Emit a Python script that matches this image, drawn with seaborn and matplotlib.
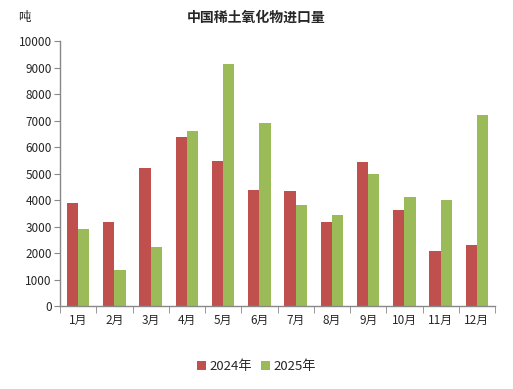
import pandas as pd
import matplotlib
matplotlib.use('Agg')
import matplotlib.pyplot as plt
import seaborn as sns

months = ['1月', '2月', '3月', '4月', '5月', '6月', '7月', '8月', '9月', '10月', '11月', '12月']
v2024 = [3880, 3190, 5210, 6375, 5470, 4370, 4330, 3190, 5430, 3610, 2095, 2320]
v2025 = [2890, 1350, 2210, 6600, 9150, 6905, 3800, 3420, 4975, 4100, 3990, 7200]
years = ['2024年', '2025年']
colors = ['#C0504D', '#9BBB59']

df = pd.DataFrame({'month': months * 2,
                   'value': v2024 + v2025,
                   'year': [years[0]] * 12 + [years[1]] * 12})

sns.set_style('white')
plt.rcParams['font.family'] = ['Noto Sans CJK SC', 'DejaVu Sans']

fig = plt.figure(figsize=(5.13, 3.89), dpi=100)
ax = fig.add_axes([0.117, 0.2134, 0.848, 0.6806])
sns.barplot(data=df, x='month', y='value', hue='year', palette=colors,
            width=0.62, gap=0, saturation=1, linewidth=0, edgecolor='none', ax=ax)

ax.set_ylim(0, 10000)
ax.set_xlim(-0.5, 11.5)
ax.set_yticks(range(0, 10001, 1000))
ax.tick_params(axis='y', labelsize=8.5, length=4, color='#888888', direction='out', left=True, pad=2)
ax.tick_params(axis='x', which='major', labelsize=8.5, length=0, pad=6)
ax.set_xticks([i - 0.5 for i in range(13)], minor=True)
ax.tick_params(axis='x', which='minor', length=5, color='#888888', direction='out', bottom=True)
for s in ['top', 'right']:
    ax.spines[s].set_visible(False)
for s in ['left', 'bottom']:
    ax.spines[s].set_color('#888888')
    ax.spines[s].set_linewidth(1)
ax.set_xlabel('')
ax.set_ylabel('')

fig.text(0.5, 0.955, '中国稀土氧化物进口量', ha='center', va='center', fontsize=10, fontweight='bold')
fig.text(0.035, 0.955, '吨', ha='left', va='center', fontsize=9)

ax.legend(loc='center', bbox_to_anchor=(0.5, 0.058), bbox_transform=fig.transFigure,
          ncol=2, frameon=False, fontsize=9.5, handlelength=0.7, handleheight=0.7,
          handletextpad=0.3, columnspacing=0.6)

plt.savefig('out.png', dpi=100)
